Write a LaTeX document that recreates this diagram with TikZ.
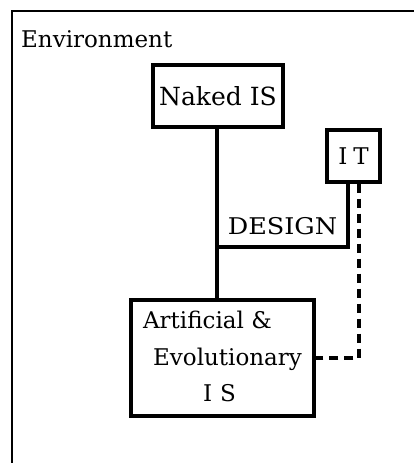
\documentclass[tikz,border=0pt]{standalone}
\usepackage{fontspec}
\setmainfont{DejaVu Serif}
\newfontfamily\widecaps[FakeStretch=1.11]{DejaVu Serif}
\begin{document}
\begin{tikzpicture}[x=1pt,y=-1pt,
  every node/.style={font=\fontsize{23}{36.5}\selectfont, inner sep=0pt},
  sysbox/.style={draw, line width=3.2pt},
  link/.style={line width=3.2pt},
  itlink/.style={line width=3.2pt, dash pattern=on 9pt off 6pt}]
  \useasboundingbox (0,0) rectangle (414,463);
  % environment frame, open towards the bottom and right
  \draw[line width=2pt] (12,463) -- (12,11) -- (414,11);
  \node[anchor=base west] (env) at (21,47) {Environment};
  % systems
  \node[sysbox, minimum width=130pt, minimum height=62pt,
        font=\fontsize{25}{30}\selectfont] (naked) at (218,96) {Naked IS};
  \node[sysbox, minimum width=53pt, minimum height=52pt] (it) at (353.5,156)
    {I\hspace{6pt}T};
  \node[sysbox, minimum width=183pt, minimum height=116pt, align=left,
        text depth=3pt] (art) at (222.5,358)
    {Artificial \&\\ \hspace{10pt}Evolutionary\\ \hspace{60pt}I\hspace{8pt}S};
  % design link from IT into the main line
  \coordinate (join) at (217,247);
  \node[font=\widecaps\fontsize{23}{28}\selectfont] (design) at (282.5,226) {DESIGN};
  \draw[link] (naked.south -| join) -- (art.north -| join);
  \draw[link] ([xshift=-5.5pt]it.south) |- (join);
  \draw[itlink] ([xshift=5.5pt]it.south) |- (art.east);
\end{tikzpicture}
\end{document}
